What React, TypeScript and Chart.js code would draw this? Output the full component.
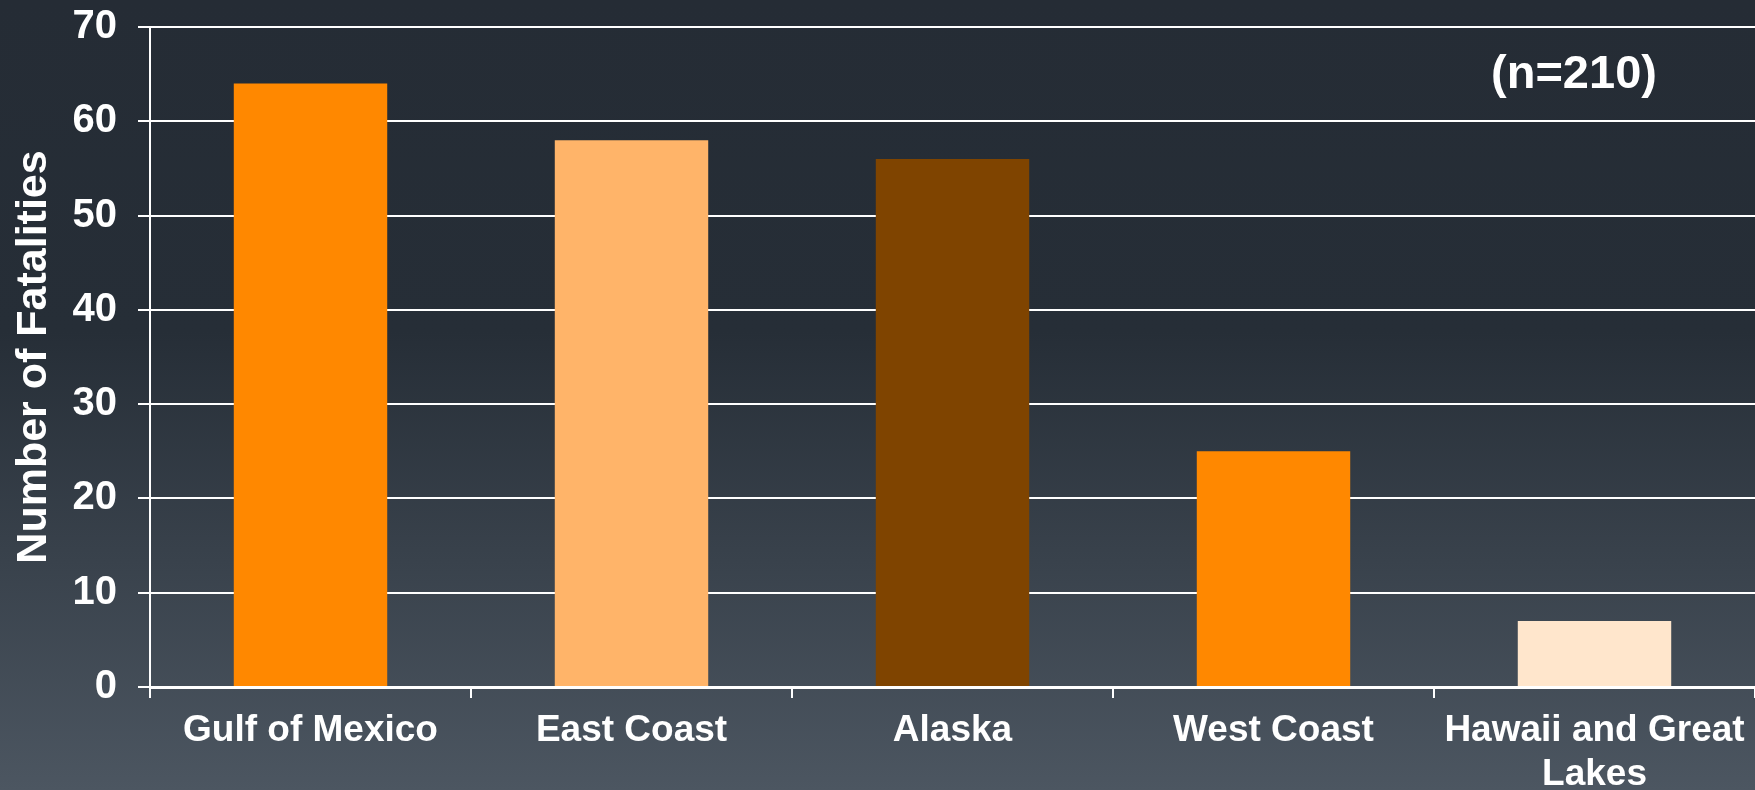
import React, { useEffect, useRef } from "react";
import { Chart, registerables } from "chart.js";

Chart.register(...registerables);

const categories: (string | string[])[] = [
  "Gulf of Mexico",
  "East Coast",
  "Alaska",
  "West Coast",
  ["Hawaii and Great", "Lakes"],
];
const fatalities = [64, 58, 56, 25, 7];
const barColors = ["#FF8800", "#FFB469", "#7F4400", "#FF8800", "#FFE6CC"];
const yTicks = [0, 10, 20, 30, 40, 50, 60, 70];
const yTitle = "Number of Fatalities";
const note = "(n=210)";

const FONT = "'Liberation Sans', Arial, Helvetica, sans-serif";

const bgPlugin = {
  id: "bgGradient",
  beforeDraw(chart: any) {
    const { ctx, width, height } = chart;
    const g = ctx.createLinearGradient(0, 0, 0, height);
    g.addColorStop(0, "#252c35");
    g.addColorStop(0.42, "#262e37");
    g.addColorStop(1, "#4c5661");
    ctx.save();
    ctx.fillStyle = g;
    ctx.fillRect(0, 0, width, height);
    ctx.restore();
  },
};

const notePlugin = {
  id: "noteText",
  afterDraw(chart: any) {
    const { ctx, chartArea } = chart;
    ctx.save();
    ctx.font = `bold 47px ${FONT}`;
    ctx.fillStyle = "#ffffff";
    ctx.textAlign = "center";
    ctx.textBaseline = "middle";
    ctx.fillText(note, chartArea.right - 181, chartArea.top + 48);
    ctx.restore();
  },
};

export default function App() {
  const ref = useRef<HTMLCanvasElement | null>(null);

  useEffect(() => {
    if (!ref.current) return;
    const chart = new Chart(ref.current, {
      type: "bar",
      data: {
        labels: categories,
        datasets: [
          {
            data: fatalities,
            backgroundColor: barColors,
            borderWidth: 0,
            barPercentage: 0.478,
            categoryPercentage: 1,
          },
        ],
      },
      plugins: [bgPlugin, notePlugin],
      options: {
        animation: false,
        responsive: false,
        layout: { padding: { top: 27, right: 0, bottom: 0, left: 0 } },
        plugins: {
          legend: { display: false },
          tooltip: { enabled: false },
        },
        scales: {
          x: {
            afterFit: (s: any) => {
              s.height = 103;
              s.paddingLeft = 0;
              s.paddingRight = 0;
            },
            grid: {
              display: true,
              drawOnChartArea: false,
              color: "#ffffff",
              lineWidth: 2,
              tickLength: 11,
              offset: true,
            },
            border: { display: true, color: "#ffffff", width: 3 },
            ticks: {
              color: "#ffffff",
              font: { family: FONT, size: 37, weight: "bold", lineHeight: 1.21 },
              padding: 10,
              maxRotation: 0,
              autoSkip: false,
            },
          },
          y: {
            min: 0,
            max: 70,
            afterFit: (s: any) => {
              s.width = 150;
              s.paddingTop = 0;
              s.paddingBottom = 0;
            },
            afterBuildTicks: (s: any) => {
              s.ticks = yTicks.map((v) => ({ value: v }));
            },
            grid: {
              color: "#ffffff",
              lineWidth: 2,
              tickLength: 12,
            },
            border: { display: true, color: "#ffffff", width: 2 },
            ticks: {
              color: "#ffffff",
              font: { family: FONT, size: 40, weight: "bold" },
              padding: 21,
            },
            title: {
              display: true,
              text: yTitle,
              color: "#ffffff",
              font: { family: FONT, size: 43, weight: "bold", lineHeight: 1.2 },
              padding: { top: 8, bottom: 0 },
            },
          },
        },
      },
    });
    return () => chart.destroy();
  }, []);

  return (
    <div style={{ position: "fixed", left: 0, top: 0, width: 1755, height: 790 }}>
      <canvas ref={ref} width={1755} height={790} style={{ display: "block" }} />
    </div>
  );
}
